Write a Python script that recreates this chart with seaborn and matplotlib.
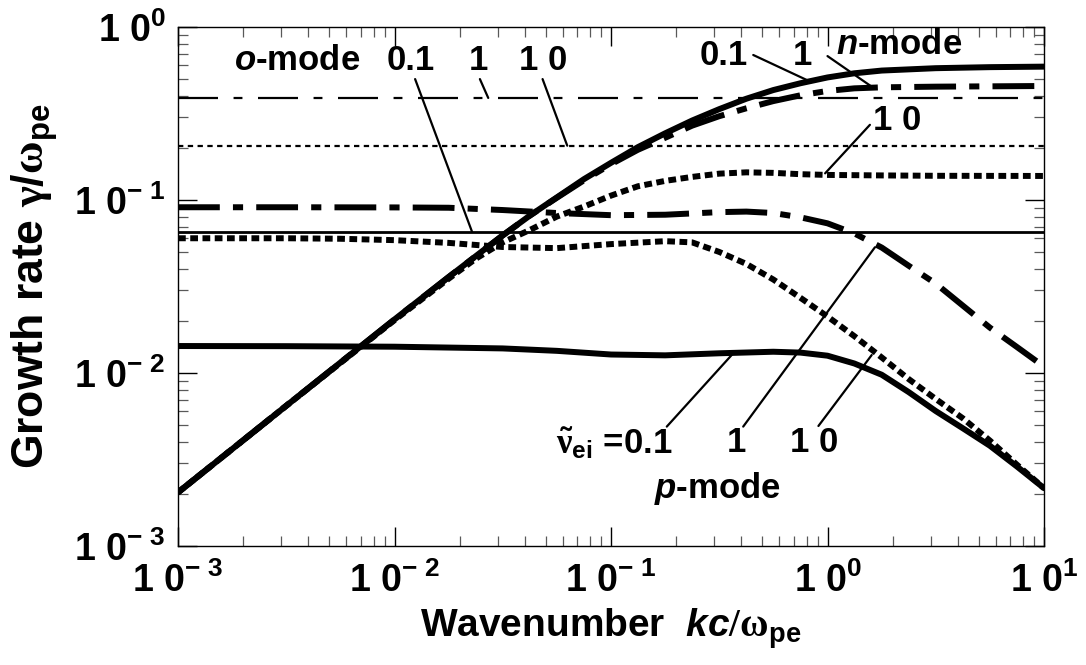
import numpy as np
import pandas as pd
import matplotlib
matplotlib.use("Agg")
import matplotlib.pyplot as plt
import seaborn as sns
from matplotlib.ticker import FixedLocator, FixedFormatter, NullFormatter, LogLocator

# ---------------- data ----------------
# n-mode, nu_ei = 0.1 (thick solid)
k_n01 = [0.001, 0.00316, 0.01, 0.0178, 0.0316, 0.0422, 0.0562, 0.075, 0.1, 0.133,
         0.178, 0.237, 0.316, 0.422, 0.562, 0.75, 1.0, 1.33, 1.78, 3.16, 5.62, 10.0]
g_n01 = [0.00204, 0.00646, 0.0204, 0.0359, 0.0624, 0.0813, 0.1035, 0.132, 0.164, 0.202,
         0.243, 0.288, 0.335, 0.385, 0.432, 0.473, 0.511, 0.540, 0.560, 0.578, 0.586, 0.590]
# n-mode, nu_ei = 1 (thick dash-dot)
k_n1 = [0.001, 0.00316, 0.01, 0.0178, 0.0316, 0.0422, 0.0562, 0.075, 0.1, 0.133,
        0.178, 0.237, 0.316, 0.422, 0.562, 0.75, 1.0, 1.33, 1.78, 3.16, 5.62, 10.0]
g_n1 = [0.00204, 0.00646, 0.0204, 0.0359, 0.0624, 0.0813, 0.1030, 0.130, 0.161, 0.195,
        0.229, 0.269, 0.305, 0.339, 0.373, 0.403, 0.427, 0.442, 0.448, 0.452, 0.454, 0.456]
# n-mode, nu_ei = 10 (thick dotted)
k_n10 = [0.001, 0.00316, 0.01, 0.0178, 0.0237, 0.0316, 0.0422, 0.0562, 0.075, 0.1,
         0.133, 0.178, 0.237, 0.316, 0.422, 0.562, 0.75, 1.0, 1.78, 3.16, 10.0]
g_n10 = [0.00204, 0.00646, 0.0202, 0.0351, 0.0457, 0.0569, 0.0671, 0.0802, 0.0916, 0.106,
         0.120, 0.129, 0.136, 0.142, 0.1445, 0.1435, 0.141, 0.1396, 0.1387, 0.138, 0.1377]

# p-mode, nu_ei = 0.1 (thick solid)
k_p01 = [0.001, 0.00316, 0.01, 0.0316, 0.0562, 0.1, 0.178, 0.316, 0.562, 0.75,
         1.0, 1.33, 1.78, 2.37, 3.16, 4.22, 5.62, 7.5, 10.0]
g_p01 = [0.01432, 0.01429, 0.01419, 0.01387, 0.01343, 0.01279, 0.01265, 0.0130, 0.01327, 0.01312,
         0.01259, 0.01135, 0.00977, 0.00776, 0.00603, 0.00479, 0.00380, 0.00288, 0.00216]
# p-mode, nu_ei = 1 (thick dash-dot)
k_p1 = [0.001, 0.00316, 0.01, 0.0178, 0.0316, 0.0562, 0.1, 0.178, 0.316, 0.422,
        0.562, 0.75, 1.0, 1.33, 1.78, 2.37, 3.16, 4.22, 5.62, 7.5, 10.0]
g_p1 = [0.0908, 0.0908, 0.0906, 0.0902, 0.0875, 0.0841, 0.0817, 0.0822, 0.0851, 0.0857,
        0.0841, 0.0794, 0.0733, 0.0641, 0.0531, 0.0417, 0.0329, 0.0245, 0.0183, 0.01413, 0.01089]
# p-mode, nu_ei = 10 (thick dotted)
k_p10 = [0.001, 0.00316, 0.00562, 0.01, 0.0178, 0.0316, 0.0562, 0.1, 0.178, 0.237,
         0.316, 0.422, 0.562, 0.75, 1.0, 1.33, 1.78, 2.37, 3.16, 4.22, 5.62, 7.5, 10.0]
g_p10 = [0.0601, 0.0601, 0.0597, 0.0586, 0.0565, 0.0535, 0.0527, 0.0556, 0.0578, 0.0569,
         0.0501, 0.0427, 0.0347, 0.0272, 0.0212, 0.01633, 0.0123, 0.00923, 0.00708, 0.00547,
         0.00407, 0.00295, 0.00216]

# o-mode (constant growth rates)
o_names = ["o 0.1", "o 1", "o 10"]
o_values = [0.0656, 0.389, 0.206]

xtick_values = [1e-3, 1e-2, 1e-1, 1e0, 1e1]
xtick_labels = ["1 0$^{-\\ 3}$", "1 0$^{-\\ 2}$", "1 0$^{-\\ 1}$", "1 0$^{0}$", "1 0$^{1}$"]
ytick_values = [1e-3, 1e-2, 1e-1, 1e0]
ytick_labels = ["1 0$^{-\\ 3}$", "1 0$^{-\\ 2}$", "1 0$^{-\\ 1}$", "1 0$^{0}$"]

xlabel = "Wavenumber  $\\mathit{kc/}\\mathrm{\\omega}_{\\mathbf{pe}}$"
ylabel = "Growth rate $\\mathrm{\\gamma}$/$\\mathrm{\\omega}_{\\mathbf{pe}}$"

# ---------------- styling ----------------
sns.set_theme(style="ticks")
plt.rcParams.update({
    "font.family": ["Liberation Sans", "DejaVu Sans"],
    "font.weight": "bold",
    "mathtext.fontset": "custom",
    "mathtext.rm": "Liberation Serif",
    "mathtext.it": "Liberation Sans:italic:bold",
    "mathtext.bf": "Liberation Sans:bold",
    "mathtext.sf": "Liberation Sans:bold",
    "mathtext.default": "bf",
    "axes.edgecolor": "black",
    "axes.linewidth": 1.0,
    "text.color": "black",
    "axes.labelcolor": "black",
    "xtick.color": "black",
    "ytick.color": "black",
    "xtick.labelcolor": "black",
    "ytick.labelcolor": "black",
})

frames = []
for name, ks, gs in [("n 0.1", k_n01, g_n01), ("n 1", k_n1, g_n1), ("n 10", k_n10, g_n10),
                     ("p 0.1", k_p01, g_p01), ("p 1", k_p1, g_p1), ("p 10", k_p10, g_p10)]:
    frames.append(pd.DataFrame({"k": ks, "gamma": gs, "curve": name}))
df = pd.concat(frames, ignore_index=True)

thick = 4.3
styles = {
    "n 0.1": dict(lw=thick, linestyle="-"),
    "n 1": dict(lw=thick, linestyle=(0, (7, 2.2, 1.7, 2.2))),
    "n 10": dict(lw=thick, linestyle=(0, (1.3, 0.75))),
    "p 0.1": dict(lw=thick, linestyle="-"),
    "p 1": dict(lw=thick, linestyle=(0, (7, 2.2, 1.7, 2.2))),
    "p 10": dict(lw=thick, linestyle=(0, (1.3, 0.75))),
}
o_styles = {
    "o 0.1": dict(lw=2.0, linestyle="-"),
    "o 1": dict(lw=1.6, linestyle=(0, (18, 7, 4, 7))),
    "o 10": dict(lw=1.6, linestyle=(0, (2.4, 2.0))),
}

fig = plt.figure(figsize=(10.86, 6.65), dpi=100)
ax = fig.add_axes([178 / 1086, 1 - 546 / 665, (1044 - 178) / 1086, (546 - 27) / 665])
ax.set_xscale("log")
ax.set_yscale("log")

for name, val in zip(o_names, o_values):
    ax.axhline(val, color="black", **o_styles[name])

for name in ["p 10", "p 1", "p 0.1", "n 10", "n 1", "n 0.1"]:
    sub = df[df["curve"] == name]
    sns.lineplot(data=sub, x="k", y="gamma", ax=ax, color="black", estimator=None,
                 sort=False, errorbar=None, legend=False, **styles[name])

ax.set_xlim(1e-3, 10)
ax.set_ylim(1e-3, 1)

ax.xaxis.set_major_locator(FixedLocator(xtick_values))
ax.xaxis.set_major_formatter(FixedFormatter(xtick_labels))
ax.yaxis.set_major_locator(FixedLocator(ytick_values))
ax.yaxis.set_major_formatter(FixedFormatter(ytick_labels))
ax.xaxis.set_minor_locator(LogLocator(base=10, subs=np.arange(2, 10), numticks=20))
ax.yaxis.set_minor_locator(LogLocator(base=10, subs=np.arange(2, 10), numticks=20))
ax.xaxis.set_minor_formatter(NullFormatter())
ax.yaxis.set_minor_formatter(NullFormatter())

ax.tick_params(which="both", direction="in", top=True, right=True, labelsize=27,
               labelcolor="black")
ax.tick_params(which="major", length=14, width=1.0, color="black")
ax.tick_params(which="minor", length=7, width=0.9, color="0.35")
ax.tick_params(axis="y", which="major", pad=9)
ax.tick_params(axis="x", which="major", pad=12)
for sp in ax.spines.values():
    sp.set_color("black")
    sp.set_linewidth(1.0)

ax.set_xlabel(xlabel, fontsize=28, fontweight="bold", labelpad=4, color="black")
ax.set_ylabel(ylabel, fontsize=32, fontweight="bold", labelpad=10, color="black")

# ---------------- annotations ----------------
tfs = 25
lead = dict(arrowstyle="-", lw=1.6, color="black", shrinkA=0, shrinkB=0)

def leader(p0, p1):
    ax.annotate("", xy=p1, xytext=p0, arrowprops=lead)

# o-mode
ax.text(0.00355, 0.644, "$\\mathit{o}$-mode", fontsize=tfs, ha="center", va="center")
ax.text(0.0119, 0.644, "0.1", fontsize=tfs, ha="center", va="center")
ax.text(0.0243, 0.644, "1", fontsize=tfs, ha="center", va="center")
ax.text(0.0485, 0.644, "1 0", fontsize=tfs, ha="center", va="center")
leader((0.01245, 0.50), (0.0228, 0.0656))
leader((0.0248, 0.50), (0.0271, 0.389))
leader((0.0483, 0.50), (0.0628, 0.206))

# n-mode
ax.text(0.33, 0.684, "0.1", fontsize=tfs, ha="center", va="center")
ax.text(0.766, 0.684, "1", fontsize=tfs, ha="center", va="center")
ax.text(2.14, 0.787, "$\\mathit{n}$-mode", fontsize=tfs, ha="center", va="center")
ax.text(2.10, 0.287, "1 0", fontsize=tfs, ha="center", va="center")
leader((0.454, 0.689), (0.802, 0.494))
leader((1.0, 0.679), (1.60, 0.452))
leader((1.57, 0.272), (0.975, 0.1426))

# p-mode
ax.text(0.193, 0.00394, "$\\tilde{\\mathrm{\\nu}}_{\\mathbf{ei}}$ =0.1", fontsize=tfs,
        ha="right", va="center")
ax.text(0.380, 0.00394, "1", fontsize=tfs, ha="center", va="center")
ax.text(0.865, 0.00394, "1 0", fontsize=tfs, ha="center", va="center")
ax.text(0.310, 0.00216, "$\\mathit{p}$-mode", fontsize=tfs, ha="center", va="center")
leader((0.181, 0.0049), (0.367, 0.0130))
leader((0.408, 0.0049), (1.656, 0.0533))
leader((0.908, 0.00494), (1.60, 0.0127))

fig.savefig("out.png", dpi=100)
